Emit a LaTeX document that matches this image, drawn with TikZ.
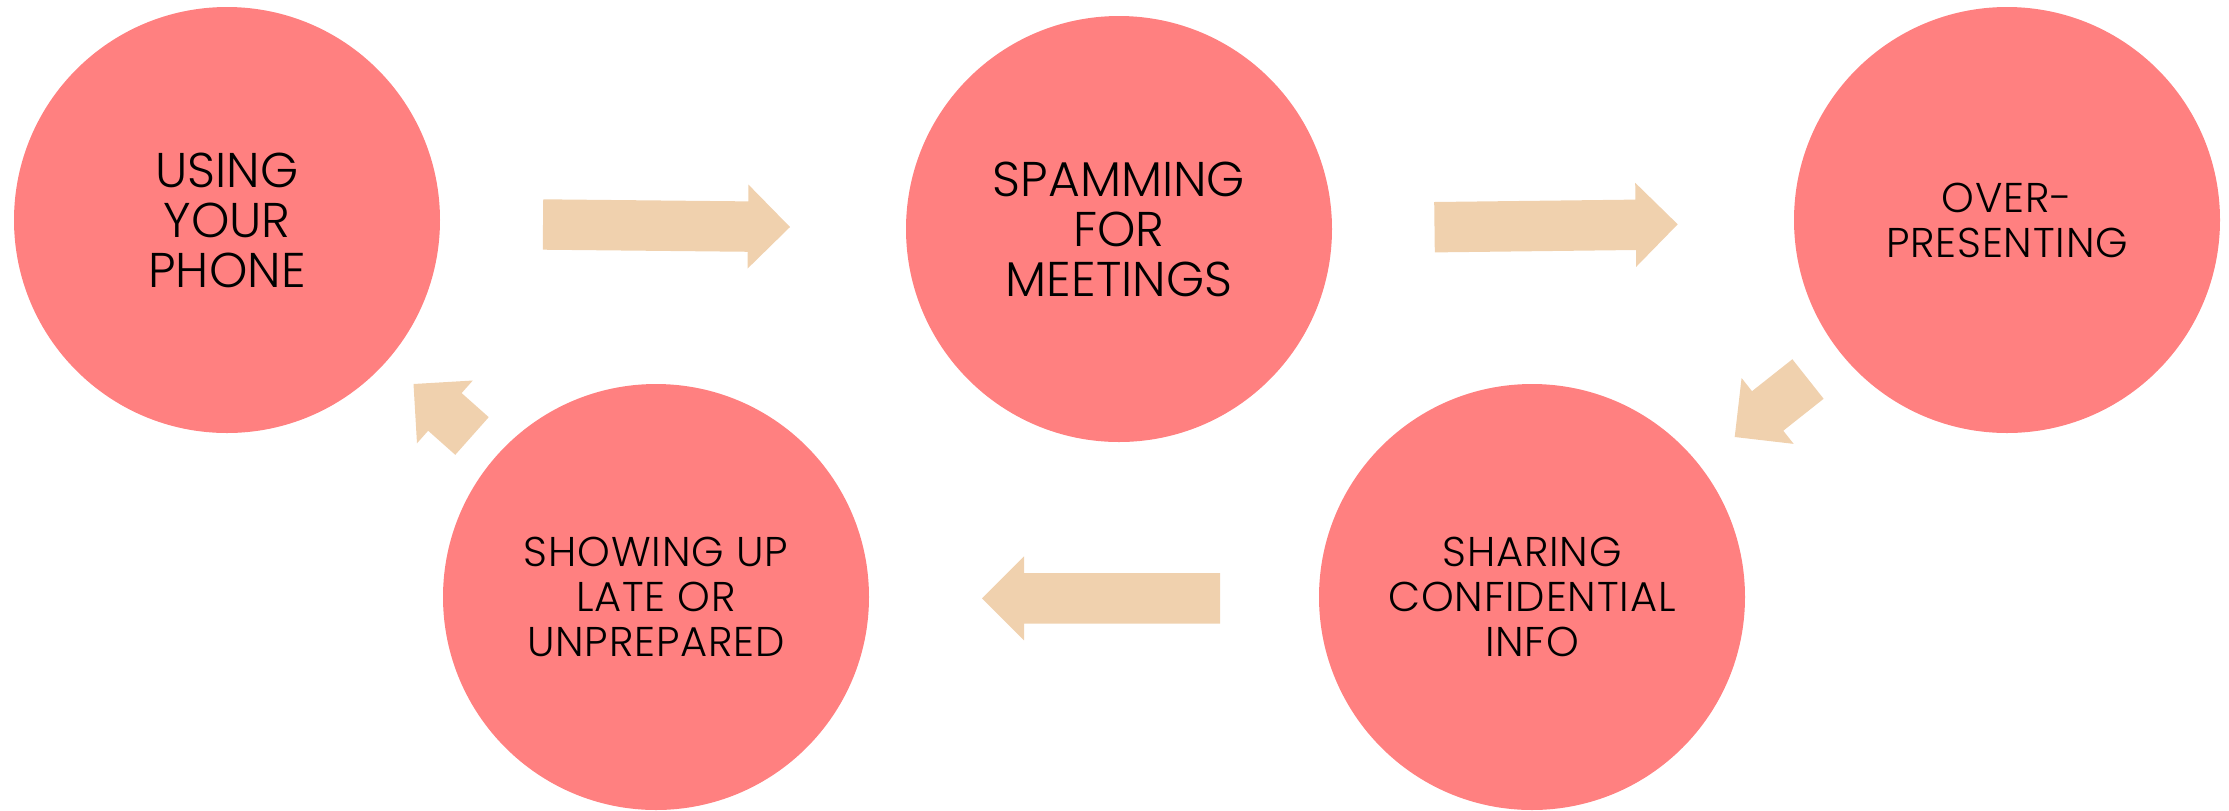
\documentclass[tikz,border=0pt]{standalone}
\usepackage{fontspec}
\setmainfont{Poppins}[UprightFont=* Light]
\usetikzlibrary{calc}

\definecolor{bubble}{RGB}{255,128,128}
\definecolor{flow}{RGB}{240,209,174}

% block arrow from tail coordinate #1 to tip coordinate #2
\newcommand\blockarrow[2]{%
  \coordinate (#1-base) at ($(#2)!21pt!(#1)$);
  \fill[flow]
    ($(#1)!12.6pt!90:(#2)$) --
    ($(#1-base)!12.6pt!90:(#2)$) --
    ($(#1-base)!21pt!90:(#2)$) --
    (#2) --
    ($(#1-base)!21pt!-90:(#2)$) --
    ($(#1-base)!12.6pt!-90:(#2)$) --
    ($(#1)!12.6pt!-90:(#2)$) -- cycle;%
}

\tikzset{
  topic/.style={circle, fill=bubble, draw=none, minimum size=213pt,
    inner sep=0pt, align=center, text=black},
  bigtext/.style={font=\fontsize{24.4}{25}\selectfont},
  smalltext/.style={font=\fontsize{20.8}{22.5}\selectfont\addfontfeatures{LetterSpace=2}},
}

\begin{document}
\begin{tikzpicture}[x=0.5pt, y=-0.5pt]
  \useasboundingbox (0,0) rectangle (2229,810);

  % topics
  \node[topic, bigtext]   (phone)   at (227,220)  {USING\\YOUR\\PHONE};
  \node[topic, bigtext]   (spam)    at (1119,229) {SPAMMING\\FOR\\MEETINGS};
  \node[topic, smalltext] (present) at (2007,220) {OVER-\\PRESENTING};
  \node[topic, smalltext] (late)    at (656,597)  {SHOWING UP\\LATE OR\\UNPREPARED};
  \node[topic, smalltext] (share)   at (1532,597) {SHARING\\CONFIDENTIAL\\INFO};

  % arrow ends
  \coordinate (a1t) at (543,224.5);  \coordinate (a1h) at (790,227);
  \coordinate (a2t) at (1434.5,227.2); \coordinate (a2h) at (1677.7,224.3);
  \coordinate (a3t) at (1808,379);   \coordinate (a3h) at (1734.7,437);
  \coordinate (a4t) at (1220,598.3); \coordinate (a4h) at (982,598.3);
  \coordinate (a5t) at (472,436);    \coordinate (a5h) at (413.5,384);

  \blockarrow{a1t}{a1h}
  \blockarrow{a2t}{a2h}
  \blockarrow{a3t}{a3h}
  \blockarrow{a4t}{a4h}
  \blockarrow{a5t}{a5h}
\end{tikzpicture}
\end{document}
